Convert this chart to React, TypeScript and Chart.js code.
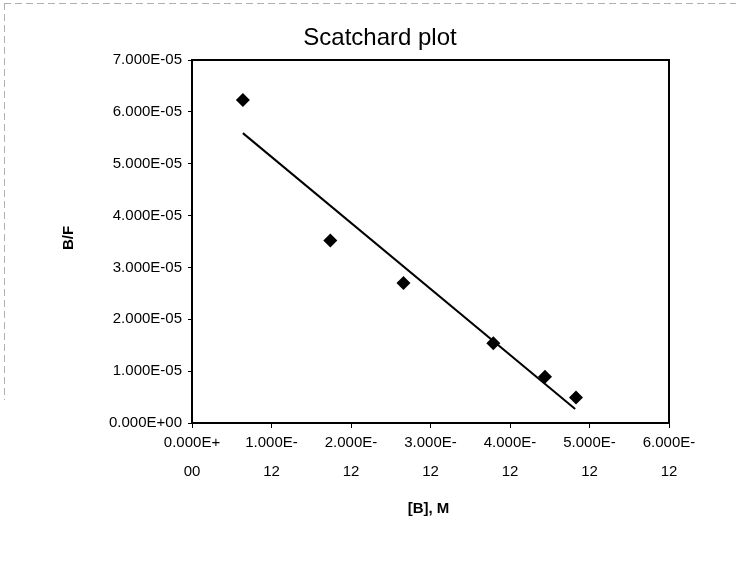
import React, { useEffect, useRef } from "react";
import { Chart, registerables } from "chart.js";

Chart.register(...registerables);

// Data (Scatchard plot)
const boundConc = [0.64e-12, 1.74e-12, 2.66e-12, 3.79e-12, 4.44e-12, 4.83e-12];
const boundOverFree = [6.23e-5, 3.52e-5, 2.70e-5, 1.54e-5, 0.89e-5, 0.49e-5];
// Linear trend line end points (as drawn)
const trendX = [0.64e-12, 4.82e-12];
const trendY = [5.59e-5, 0.27e-5];

const xTickValues = [0, 1e-12, 2e-12, 3e-12, 4e-12, 5e-12, 6e-12];
const xTickLabels = [
  ["0.000E+", "00"],
  ["1.000E-", "12"],
  ["2.000E-", "12"],
  ["3.000E-", "12"],
  ["4.000E-", "12"],
  ["5.000E-", "12"],
  ["6.000E-", "12"],
];
const yTickValues = [0, 1e-5, 2e-5, 3e-5, 4e-5, 5e-5, 6e-5, 7e-5];
const yTickLabels = [
  "0.000E+00",
  "1.000E-05",
  "2.000E-05",
  "3.000E-05",
  "4.000E-05",
  "5.000E-05",
  "6.000E-05",
  "7.000E-05",
];

const titleText = "Scatchard plot";
const xTitle = "[B], M";
const yTitle = "B/F";

const FONT = "'Liberation Sans', Arial, sans-serif";

const W = 736;
const H = 569;
const PLOT_LEFT = 192;
const PLOT_RIGHT = 669;
const PLOT_TOP = 60;
const PLOT_BOTTOM = 423;

const decorPlugin = {
  id: "decor",
  beforeDraw(chart: any) {
    const ctx = chart.ctx;
    ctx.save();
    ctx.fillStyle = "#ffffff";
    ctx.fillRect(0, 0, chart.width, chart.height);
    // faint scanned chart frame
    ctx.strokeStyle = "#b0b0b0";
    ctx.lineWidth = 1;
    ctx.setLineDash([7, 4]);
    ctx.beginPath();
    ctx.moveTo(4, 3.5);
    ctx.lineTo(chart.width, 3.5);
    ctx.moveTo(4.5, 3);
    ctx.lineTo(4.5, 400);
    ctx.stroke();
    ctx.restore();
  },
  afterDraw(chart: any) {
    const ctx = chart.ctx;
    const a = chart.chartArea;
    ctx.save();
    ctx.strokeStyle = "#000";
    ctx.lineWidth = 2;
    ctx.strokeRect(a.left, a.top, a.right - a.left, a.bottom - a.top);
    ctx.fillStyle = "#000";
    ctx.textAlign = "center";
    ctx.textBaseline = "middle";
    ctx.font = `24px ${FONT}`;
    ctx.fillText(titleText, 380, 38);
    ctx.font = `bold 15px ${FONT}`;
    ctx.fillText(xTitle, (a.left + a.right) / 2 - 2, 509);
    ctx.translate(69, 238);
    ctx.rotate(-Math.PI / 2);
    ctx.fillText(yTitle, 0, 0);
    ctx.restore();
  },
};

export default function App() {
  const ref = useRef<HTMLCanvasElement | null>(null);
  useEffect(() => {
    document.body.style.margin = "0";
    const canvas = ref.current;
    if (!canvas) return;
    const chart = new Chart(canvas, {
      type: "scatter",
      data: {
        datasets: [
          {
            label: "B/F",
            data: boundConc.map((x, i) => ({ x, y: boundOverFree[i] })),
            pointStyle: "rectRot",
            pointRadius: 7,
            pointHoverRadius: 7,
            backgroundColor: "#000",
            borderColor: "#000",
            borderWidth: 0,
            showLine: false,
          },
          {
            label: "Linear",
            data: trendX.map((x, i) => ({ x, y: trendY[i] })),
            showLine: true,
            borderColor: "#000",
            borderWidth: 2,
            pointRadius: 0,
            pointHoverRadius: 0,
            fill: false,
          },
        ],
      },
      options: {
        animation: false,
        responsive: false,
        devicePixelRatio: 1,
        layout: {
          padding: { left: 0, top: PLOT_TOP, right: W - PLOT_RIGHT, bottom: 0 },
        },
        plugins: {
          legend: { display: false },
          title: { display: false },
          tooltip: { enabled: false },
        },
        scales: {
          x: {
            type: "linear",
            min: 0,
            max: 6e-12,
            afterFit(scale: any) {
              scale.height = H - PLOT_BOTTOM;
            },
            afterBuildTicks(scale: any) {
              scale.ticks = xTickValues.map((v) => ({ value: v }));
            },
            grid: {
              drawOnChartArea: false,
              drawTicks: true,
              tickLength: 5,
              color: "#000",
              lineWidth: 1,
            },
            border: { display: true, color: "#000", width: 2 },
            ticks: {
              autoSkip: false,
              maxRotation: 0,
              minRotation: 0,
              padding: 0,
              color: "#000",
              font: { family: FONT, size: 15, lineHeight: 1.95 },
              callback: (_v: any, i: number) => xTickLabels[i],
            },
          },
          y: {
            type: "linear",
            min: 0,
            max: 7e-5,
            afterFit(scale: any) {
              scale.width = PLOT_LEFT;
            },
            afterBuildTicks(scale: any) {
              scale.ticks = yTickValues.map((v) => ({ value: v }));
            },
            grid: {
              drawOnChartArea: false,
              drawTicks: true,
              tickLength: 4,
              color: "#000",
              lineWidth: 1,
            },
            border: { display: true, color: "#000", width: 2 },
            ticks: {
              autoSkip: false,
              padding: 6,
              color: "#000",
              font: { family: FONT, size: 15 },
              callback: (_v: any, i: number) => yTickLabels[i],
            },
          },
        },
      },
      plugins: [decorPlugin],
    });
    return () => chart.destroy();
  }, []);
  return (
    <div style={{ width: W, height: H }}>
      <canvas ref={ref} width={W} height={H} style={{ display: "block", width: W, height: H }} />
    </div>
  );
}
